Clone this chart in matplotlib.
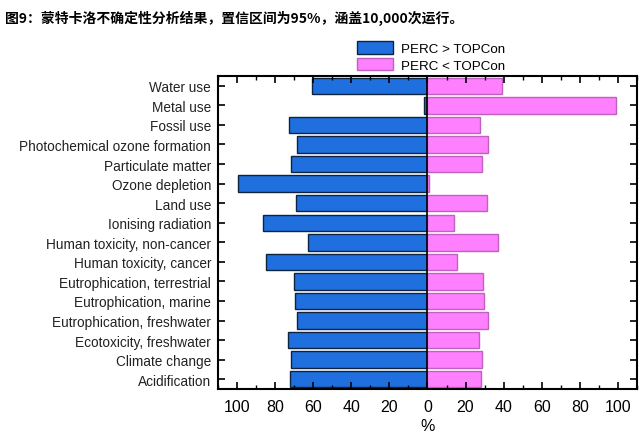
"""
Figure 9: Monte Carlo uncertainty analysis, 95% interval, 10,000 runs.
Diverging horizontal bars: PERC > TOPCon (left, blue) vs PERC < TOPCon (right, pink).
"""

import numpy as np
import matplotlib
matplotlib.use('Agg')
import matplotlib.pyplot as plt
from matplotlib.ticker import MultipleLocator, FuncFormatter

# categories, top to bottom
categories = [
    'Water use', 'Metal use', 'Fossil use', 'Photochemical ozone formation',
    'Particulate matter', 'Ozone depletion', 'Land use', 'Ionising radiation',
    'Human toxicity, non-cancer', 'Human toxicity, cancer',
    'Eutrophication, terrestrial', 'Eutrophication, marine',
    'Eutrophication, freshwater', 'Ecotoxicity, freshwater',
    'Climate change', 'Acidification',
]
# share of runs (%) where PERC > TOPCon (plotted to the left)
perc_gt = [60.5, 1.7, 72.6, 68.3, 71.6, 99.3, 68.8, 86.5,
           63.0, 84.6, 70.2, 69.8, 68.3, 73.3, 71.6, 72.1]
# share of runs (%) where PERC < TOPCon (plotted to the right)
perc_lt = [39.3, 99.0, 27.5, 31.9, 28.4, 0.8, 31.2, 13.7,
           37.2, 15.4, 29.3, 29.8, 31.9, 26.8, 28.8, 28.2]

COL_BLUE = '#1f6fde'
COL_PINK = '#ff80ff'

plt.rcParams['font.family'] = ['Liberation Sans', 'DejaVu Sans']

fig = plt.figure(figsize=(6.42, 4.39), dpi=100)
ax = fig.add_axes([0.3396, 0.1116, 0.6525, 0.713])

y = np.arange(len(categories))
h = 0.84
b1 = ax.barh(y, -np.array(perc_gt), height=h, color=COL_BLUE,
             edgecolor='#0d2440', lw=1.0, label='PERC > TOPCon')
b2 = ax.barh(y, perc_lt, height=h, color=COL_PINK,
             edgecolor='#c060c0', lw=1.0, label='PERC < TOPCon')
ax.axvline(0, color='black', lw=1.2)

ax.set_xlim(-110, 110)
ax.set_ylim(len(categories) - 0.5, -0.5)
ax.set_yticks(y)
ax.set_yticklabels(categories, fontsize=9.8, color='#222222')
ax.xaxis.set_major_locator(MultipleLocator(20))
ax.xaxis.set_minor_locator(MultipleLocator(10))
ax.xaxis.set_major_formatter(FuncFormatter(lambda v, p: f'{abs(v):.0f}'))
ax.tick_params(axis='x', which='both', direction='in', top=True,
               labelsize=11.5, pad=7)
ax.tick_params(axis='x', which='major', length=5, width=1.2)
ax.tick_params(axis='x', which='minor', length=3, width=1.0)
ax.tick_params(axis='y', direction='in', right=True, length=5, width=1.2,
               pad=5)
ax.set_xlabel('%', fontsize=11.5, labelpad=3)
for s in ax.spines.values():
    s.set_linewidth(1.5)

fig.legend(handles=[b1, b2], loc='upper left',
           bbox_to_anchor=(0.548, 0.917), frameon=False, fontsize=9.6,
           handlelength=2.7, handleheight=1.1, handletextpad=0.6,
           labelspacing=0.22, borderaxespad=0)

fig.text(0.008, 0.958,
         '图9：蒙特卡洛不确定性分析结果，置信区间为95%，涵盖10,000次运行。',
         fontsize=10, fontweight='bold', va='center', ha='left',
         family=['Noto Sans CJK SC', 'DejaVu Sans'])

fig.savefig('out.png', dpi=100)
plt.close(fig)
